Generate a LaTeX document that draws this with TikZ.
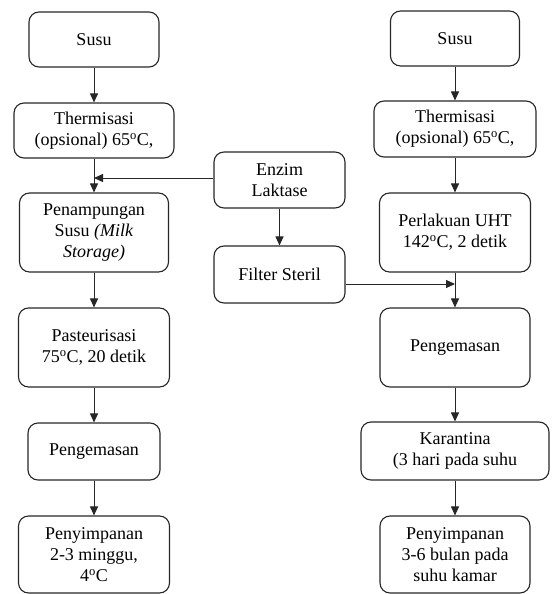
\documentclass[tikz,border=0pt]{standalone}
\usepackage{fontspec}
\setmainfont{Liberation Serif}
\newfontfamily\tnr{Liberation Serif}
\usetikzlibrary{arrows.meta}
\newcommand{\dg}{\textsuperscript{o}}
\begin{document}
\begin{tikzpicture}[x=1pt,y=-1pt,
  box/.style={draw=black!85, line width=1.1pt, rounded corners=10pt, align=center,
    inner sep=0pt, font=\tnr\fontsize{18}{21}\selectfont},
  arr/.style={draw=black!85, line width=1pt, -{Triangle[width=8pt,length=9pt]}}]
\useasboundingbox (0,0) rectangle (555,594);
% left column
\node[box, minimum width=130pt, minimum height=55pt] (susuL) at (94,39.5) {Susu};
\node[box, minimum width=160pt, minimum height=55pt] (thermL) at (94,130.5) {Thermisasi\\(opsional) 65\dg C,};
\node[box, minimum width=149pt, minimum height=79pt] (penamp) at (94,232.5) {Penampungan\\Susu \textit{(Milk}\\\textit{Storage)}};
\node[box, minimum width=151pt, minimum height=79pt] (past) at (94,347.5) {Pasteurisasi\\75\dg C, 20 detik};
\node[box, minimum width=132pt, minimum height=57pt] (pengL) at (94,451.5) {Pengemasan};
\node[box, minimum width=151pt, minimum height=77pt] (simpL) at (94,554.5) {Penyimpanan\\2-3 minggu,\\4\dg C};
% middle column
\node[box, minimum width=131pt, minimum height=56pt] (enzim) at (279.5,180) {Enzim\\Laktase};
\node[box, minimum width=131pt, minimum height=57pt] (filter) at (279.5,274.5) {Filter Steril};
% right column
\node[box, minimum width=129pt, minimum height=55pt] (susuR) at (455,38.5) {Susu};
\node[box, minimum width=162pt, minimum height=56pt] (thermR) at (455,129) {Thermisasi\\(opsional) 65\dg C,};
\node[box, minimum width=151pt, minimum height=79pt] (uht) at (455,232.5) {Perlakuan UHT\\142\dg C, 2 detik};
\node[box, minimum width=150pt, minimum height=79pt] (pengR) at (455,347.5) {Pengemasan};
\node[box, minimum width=188pt, minimum height=58pt] (karan) at (455,451) {Karantina\\(3 hari pada suhu};
\node[box, minimum width=150pt, minimum height=77pt] (simpR) at (455,554.5) {Penyimpanan\\3-6 bulan pada\\suhu kamar};
% join points
\coordinate (j1) at (94,178);
\coordinate (j2) at (455,284);
% connectors
\draw[arr] (susuL) -- (thermL);
\draw[arr] (thermL) -- (penamp);
\draw[arr] (penamp) -- (past);
\draw[arr] (past) -- (pengL);
\draw[arr] (pengL) -- (simpL);
\draw[arr] (enzim.west |- j1) -- (j1);
\draw[arr] (enzim) -- (filter);
\draw[arr] (filter.east |- j2) -- (j2);
\draw[arr] (susuR) -- (thermR);
\draw[arr] (thermR) -- (uht);
\draw[arr] (uht) -- (pengR);
\draw[arr] (pengR) -- (karan);
\draw[arr] (karan) -- (simpR);
\end{tikzpicture}
\end{document}
